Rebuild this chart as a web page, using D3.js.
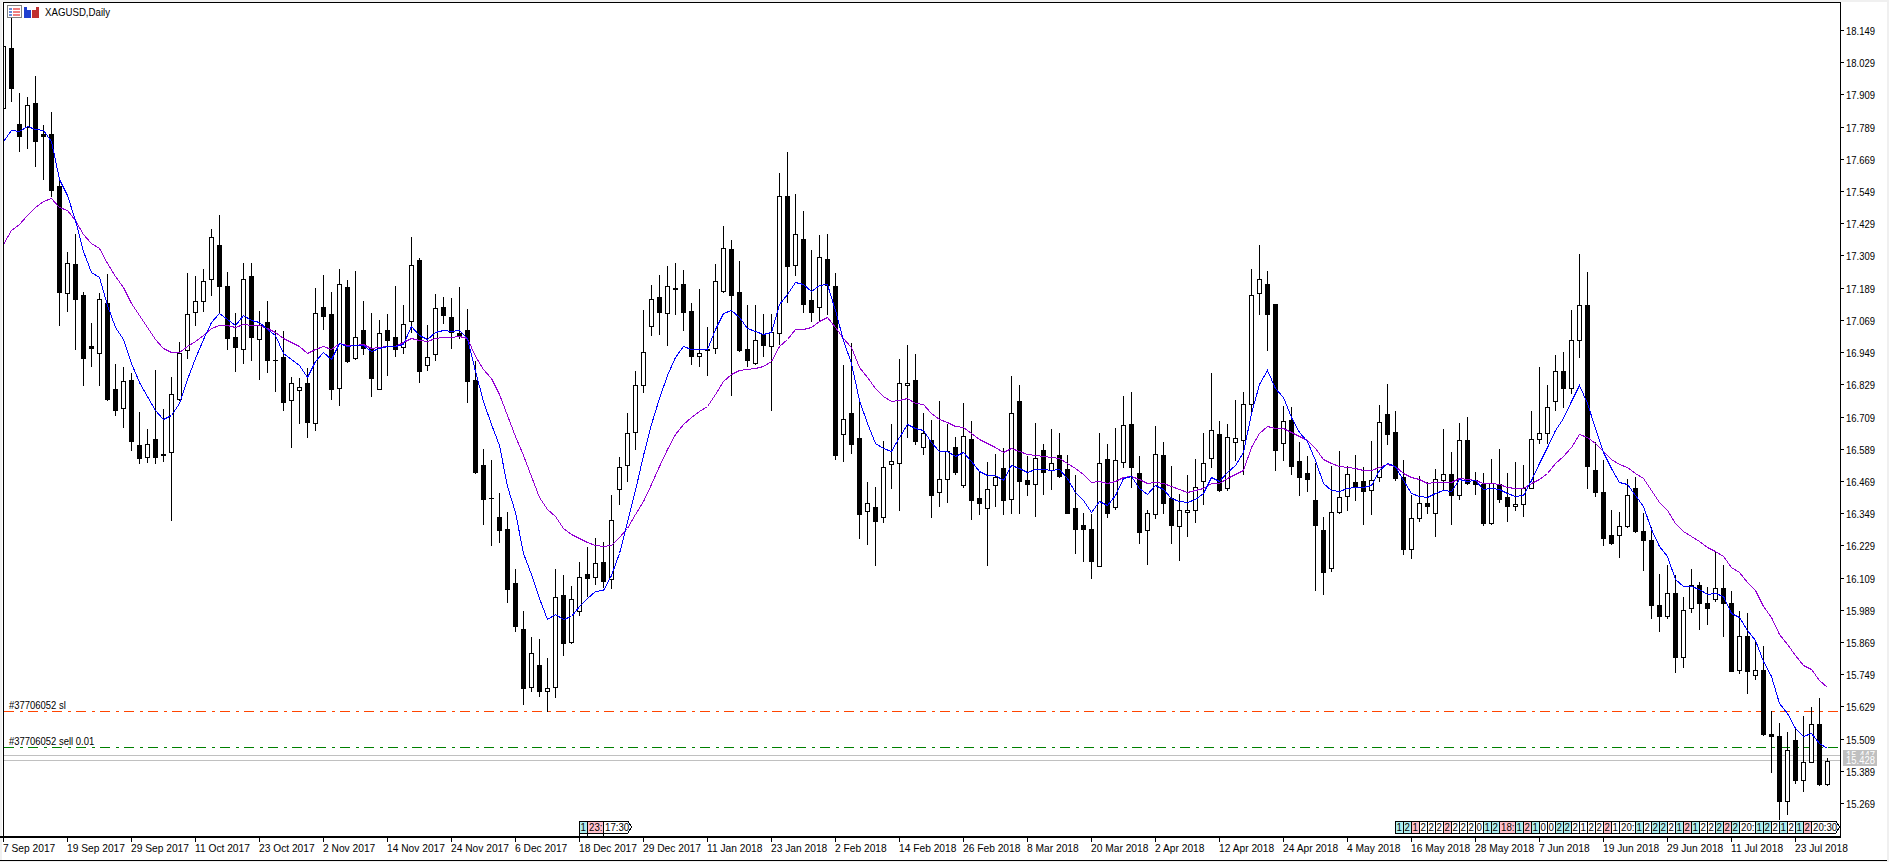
<!DOCTYPE html>
<html>
<head>
<meta charset="utf-8">
<title>XAGUSD,Daily</title>
<script src="https://cdn.jsdelivr.net/npm/d3@7"></script>
<style>
  html, body { margin: 0; padding: 0; background: #f0f0f0; overflow: hidden; }
  svg { display: block; }
  text { font-family: "Liberation Sans", Arial, sans-serif; font-size: 11px; fill: #000; }
</style>
</head>
<body>
<svg id="chart" width="1889" height="862"></svg>
<script>
// Daily XAGUSD candles, one entry per trading session.
const openPrices = [
17.857,18.083,17.798,17.786,17.876,17.763,17.760,17.567,17.168,17.276,
17.160,16.972,16.945,17.131,16.810,16.739,16.845,16.603,16.558,16.625,
16.569,16.577,16.773,16.955,17.100,17.141,17.220,17.348,17.195,17.004,
16.959,17.232,16.998,17.061,16.921,16.930,16.771,16.808,16.834,16.685,
17.117,17.090,16.814,17.191,16.926,17.031,16.966,16.813,17.031,17.004,
16.967,17.064,17.291,16.900,16.940,17.117,17.079,17.020,17.030,16.845,
16.528,16.406,16.335,16.289,16.088,15.917,15.700,15.783,15.686,15.703,
16.044,15.867,15.984,16.122,16.111,16.166,16.104,16.439,16.527,16.651,
16.826,17.046,17.154,17.094,17.188,17.203,17.101,16.936,16.960,16.963,
17.177,17.332,17.173,16.960,16.908,17.017,16.972,17.020,17.530,17.274,
17.369,17.142,17.116,17.295,17.194,16.642,16.721,16.628,16.356,16.371,
16.334,16.531,16.535,16.825,16.844,16.594,16.620,16.427,16.475,16.594,
16.453,16.624,16.404,16.367,16.453,16.516,16.401,16.766,16.471,16.457,
16.583,16.509,16.565,16.512,16.367,16.304,16.289,16.151,16.550,16.373,
16.538,16.680,16.497,16.285,16.345,16.565,16.404,16.300,16.352,16.360,
16.468,16.554,16.643,16.444,16.613,16.621,16.755,17.168,17.202,17.127,
16.609,16.695,16.542,16.499,16.397,16.285,16.144,16.352,16.412,16.465,
16.468,16.434,16.482,16.717,16.650,16.484,16.217,16.330,16.386,16.351,
16.474,16.494,16.415,16.621,16.473,16.457,16.314,16.458,16.408,16.375,
16.382,16.444,16.624,16.647,16.768,16.878,16.817,16.993,17.123,16.509,
16.428,16.267,16.267,16.301,16.442,16.282,16.248,16.006,15.965,16.052,
15.812,15.997,16.081,16.014,16.029,16.070,16.013,15.764,15.890,15.745,
15.764,15.526,15.518,15.275,15.503,15.353,15.422,15.565,15.340];

const closePrices = [
18.091,17.934,17.755,17.868,17.737,17.755,17.554,17.171,17.282,17.145,
16.928,16.963,17.145,16.776,16.732,16.841,16.619,16.553,16.607,16.557,
16.564,16.793,16.945,17.090,17.139,17.212,17.377,17.194,17.000,16.967,
17.221,17.004,17.051,16.918,16.918,16.762,16.834,16.818,16.687,17.096,
17.085,16.810,17.204,16.914,17.004,16.963,16.854,17.020,16.993,16.959,
17.053,17.272,16.880,16.929,17.113,17.086,17.022,17.013,16.843,16.501,
16.400,16.404,16.285,16.068,15.927,15.696,15.827,15.685,15.697,16.037,
15.864,16.028,16.111,16.107,16.162,16.095,16.323,16.520,16.647,16.826,
16.949,17.146,17.097,17.194,17.185,17.097,16.933,16.945,16.957,17.213,
17.337,17.160,16.957,16.918,16.993,16.977,17.022,17.530,17.268,17.388,
17.129,17.100,17.304,17.200,16.567,16.699,16.608,16.344,16.386,16.321,
16.520,16.545,16.833,16.833,16.619,16.649,16.418,16.475,16.579,16.501,
16.635,16.399,16.385,16.440,16.485,16.399,16.721,16.470,16.459,16.553,
16.501,16.535,16.489,16.351,16.291,16.291,16.172,16.535,16.351,16.546,
16.676,16.519,16.280,16.349,16.568,16.388,16.303,16.360,16.360,16.448,
16.535,16.658,16.436,16.632,16.628,16.755,17.161,17.220,17.092,16.586,
16.691,16.523,16.485,16.478,16.303,16.128,16.352,16.408,16.494,16.451,
16.433,16.472,16.688,16.642,16.480,16.217,16.330,16.386,16.374,16.475,
16.494,16.415,16.621,16.463,16.459,16.314,16.460,16.400,16.377,16.382,
16.442,16.624,16.647,16.746,16.878,16.817,16.993,17.123,16.526,16.426,
16.255,16.238,16.301,16.416,16.281,16.248,16.006,15.965,16.052,15.812,
15.987,16.080,16.013,15.995,16.070,16.013,15.762,15.890,15.759,15.764,
15.526,15.517,15.275,15.466,15.353,15.422,15.565,15.340,15.424];

const highPrices = [
18.130,18.222,17.914,17.899,17.976,17.795,17.844,17.594,17.322,17.389,
17.173,17.058,17.168,17.239,16.905,16.894,16.872,16.727,16.663,16.882,
16.737,16.857,16.987,17.244,17.234,17.258,17.408,17.461,17.248,17.095,
17.280,17.280,17.103,17.139,17.032,17.027,16.857,16.853,16.891,17.188,
17.236,17.173,17.258,17.218,17.252,17.139,17.095,17.070,17.091,17.196,
17.124,17.378,17.300,17.050,17.164,17.156,17.150,17.193,17.110,16.915,
16.588,16.548,16.423,16.355,16.142,15.984,15.887,15.881,15.810,16.142,
16.119,16.078,16.166,16.221,16.258,16.242,16.417,16.558,16.721,16.879,
17.107,17.200,17.237,17.271,17.281,17.255,17.133,17.183,17.042,17.278,
17.419,17.368,17.290,17.124,17.124,17.091,17.091,17.617,17.696,17.539,
17.475,17.328,17.385,17.389,17.242,16.900,16.983,16.771,16.465,16.447,
16.618,16.681,16.923,16.975,16.941,16.722,16.696,16.767,16.681,16.632,
16.759,16.691,16.506,16.540,16.570,16.591,16.860,16.827,16.562,16.684,
16.607,16.663,16.648,16.566,16.491,16.351,16.347,16.648,16.607,16.665,
16.786,16.800,16.562,16.361,16.674,16.614,16.525,16.421,16.491,16.551,
16.648,16.870,16.693,16.681,16.771,16.799,17.258,17.348,17.251,17.127,
16.748,16.744,16.614,16.562,16.536,16.335,16.525,16.581,16.524,16.566,
16.520,16.618,16.752,16.830,16.730,16.547,16.417,16.487,16.464,16.514,
16.663,16.577,16.685,16.708,16.501,16.499,16.551,16.588,16.499,16.539,
16.529,16.729,16.894,16.827,16.937,16.950,17.106,17.315,17.248,16.614,
16.546,16.362,16.354,16.478,16.483,16.351,16.297,16.123,16.157,16.119,
16.037,16.141,16.093,16.073,16.207,16.157,16.059,15.986,15.977,15.870,
15.855,15.610,15.567,15.534,15.551,15.593,15.625,15.661,15.436];

const lowPrices = [
17.810,17.886,17.700,17.709,17.644,17.594,17.531,17.051,17.103,16.959,
16.828,16.899,16.828,16.769,16.713,16.671,16.586,16.535,16.541,16.535,
16.545,16.322,16.771,16.926,17.051,17.103,17.161,17.099,16.959,16.880,
16.907,16.921,16.850,16.873,16.803,16.732,16.594,16.684,16.631,16.658,
17.034,16.773,16.750,16.912,16.923,16.943,16.787,16.810,16.862,16.936,
16.947,17.022,16.836,16.883,16.918,17.056,16.963,17.000,16.762,16.497,
16.310,16.232,16.242,16.017,15.908,15.636,15.685,15.666,15.611,15.665,
15.819,15.864,15.971,16.041,16.084,16.074,16.071,16.384,16.470,16.588,
16.801,17.012,17.017,16.977,17.091,17.032,16.905,16.896,16.862,16.947,
17.174,16.788,16.952,16.899,16.906,16.936,16.735,16.980,17.134,17.237,
17.098,17.065,17.067,17.090,16.552,16.545,16.573,16.258,16.234,16.154,
16.317,16.444,16.362,16.634,16.608,16.571,16.336,16.377,16.392,16.493,
16.448,16.327,16.347,16.157,16.377,16.347,16.351,16.351,16.418,16.340,
16.422,16.439,16.485,16.351,16.202,16.169,16.109,16.151,16.336,16.366,
16.519,16.448,16.239,16.161,16.329,16.351,16.239,16.176,16.262,16.317,
16.383,16.521,16.432,16.437,16.547,16.495,16.717,17.092,16.957,16.508,
16.547,16.495,16.418,16.433,16.064,16.046,16.135,16.351,16.361,16.398,
16.310,16.347,16.467,16.607,16.473,16.195,16.180,16.318,16.351,16.262,
16.436,16.310,16.401,16.459,16.422,16.303,16.307,16.391,16.321,16.362,
16.339,16.444,16.609,16.609,16.734,16.745,16.796,16.929,16.444,16.411,
16.231,16.235,16.187,16.298,16.278,16.138,15.959,15.910,15.957,15.758,
15.774,15.982,15.919,15.937,16.020,15.893,15.759,15.752,15.679,15.732,
15.523,15.383,15.211,15.229,15.345,15.315,15.420,15.337,15.337];

// Fast and slow moving averages, one value per session.
const fastAverage = [
17.735,17.776,17.771,17.793,17.780,17.776,17.735,17.594,17.536,17.440,
17.325,17.248,17.229,17.126,17.043,16.998,16.908,16.837,16.786,16.735,
16.699,16.716,16.761,16.850,16.927,16.998,17.062,17.094,17.071,17.051,
17.086,17.068,17.062,17.034,17.011,16.946,16.925,16.902,16.857,16.914,
16.949,16.922,16.982,16.970,16.975,16.975,16.953,16.963,16.971,16.972,
16.979,17.046,17.012,16.996,17.022,17.033,17.029,17.030,17.000,16.879,
16.765,16.680,16.601,16.451,16.352,16.202,16.124,16.031,15.955,15.974,
15.953,15.967,16.003,16.031,16.058,16.064,16.117,16.202,16.316,16.437,
16.565,16.680,16.779,16.865,16.929,16.972,16.962,16.959,16.960,17.036,
17.093,17.104,17.079,17.040,17.026,17.016,17.022,17.128,17.167,17.211,
17.201,17.178,17.199,17.201,17.106,16.994,16.907,16.771,16.684,16.612,
16.591,16.581,16.632,16.680,16.666,16.660,16.615,16.581,16.581,16.563,
16.578,16.543,16.506,16.491,16.490,16.473,16.527,16.516,16.501,16.514,
16.512,16.510,16.512,16.479,16.429,16.398,16.353,16.393,16.381,16.417,
16.479,16.488,16.442,16.419,16.452,16.440,16.407,16.396,16.389,16.403,
16.423,16.482,16.469,16.504,16.529,16.578,16.721,16.829,16.883,16.814,
16.783,16.709,16.653,16.616,16.547,16.460,16.436,16.432,16.444,16.446,
16.447,16.454,16.510,16.535,16.525,16.473,16.423,16.413,16.408,16.423,
16.436,16.433,16.478,16.470,16.473,16.438,16.441,16.438,16.423,16.413,
16.417,16.473,16.535,16.597,16.659,16.703,16.765,16.827,16.758,16.665,
16.575,16.518,16.465,16.456,16.418,16.375,16.290,16.225,16.190,16.104,
16.079,16.079,16.066,16.049,16.050,16.040,15.976,15.962,15.912,15.876,
15.798,15.741,15.641,15.605,15.548,15.520,15.531,15.491,15.474];

const slowAverage = [
17.353,17.404,17.427,17.459,17.488,17.511,17.522,17.491,17.479,17.440,
17.389,17.357,17.338,17.280,17.231,17.190,17.132,17.088,17.043,16.998,
16.963,16.949,16.950,16.972,16.991,17.011,17.039,17.049,17.049,17.043,
17.053,17.049,17.049,17.040,17.023,17.000,16.985,16.970,16.945,16.959,
16.970,16.959,16.981,16.975,16.977,16.978,16.966,16.967,16.971,16.972,
16.986,17.003,16.993,16.990,17.003,17.007,17.007,17.010,17.000,16.936,
16.886,16.851,16.794,16.715,16.637,16.565,16.487,16.409,16.366,16.337,
16.295,16.273,16.256,16.241,16.232,16.226,16.231,16.259,16.295,16.345,
16.394,16.459,16.523,16.587,16.644,16.682,16.708,16.729,16.748,16.794,
16.843,16.869,16.882,16.885,16.890,16.899,16.915,16.972,16.996,17.034,
17.036,17.044,17.066,17.079,17.044,17.000,16.969,16.895,16.858,16.814,
16.787,16.766,16.769,16.777,16.761,16.754,16.721,16.700,16.690,16.675,
16.669,16.646,16.625,16.612,16.597,16.578,16.591,16.581,16.570,16.566,
16.563,16.557,16.553,16.535,16.516,16.495,16.464,16.468,16.463,16.468,
16.484,16.489,16.475,16.460,16.466,16.463,16.450,16.438,16.429,16.434,
16.442,16.460,16.460,16.479,16.494,16.510,16.597,16.647,16.672,16.665,
16.668,16.653,16.637,16.622,16.591,16.551,16.537,16.525,16.520,16.516,
16.510,16.508,16.520,16.531,16.525,16.498,16.484,16.475,16.463,16.465,
16.465,16.464,16.479,16.475,16.474,16.460,16.460,16.458,16.448,16.442,
16.444,16.460,16.475,16.498,16.535,16.560,16.597,16.645,16.634,16.610,
16.581,16.549,16.532,16.520,16.500,16.479,16.435,16.392,16.361,16.311,
16.282,16.265,16.244,16.221,16.207,16.190,16.147,16.128,16.093,16.061,
16.004,15.962,15.898,15.862,15.819,15.784,15.769,15.727,15.701];

// Axis labels: a price every 0.12 and a date every eight sessions.
const priceTicks = [18.149,18.029,17.909,17.789,17.669,17.549,17.429,17.309,17.189,17.069,16.949,16.829,16.709,16.589,16.469,16.349,16.229,16.109,15.989,15.869,15.749,15.629,15.509,15.389,15.269];
const dateTicks = ["7 Sep 2017","19 Sep 2017","29 Sep 2017","11 Oct 2017","23 Oct 2017","2 Nov 2017","14 Nov 2017","24 Nov 2017","6 Dec 2017","18 Dec 2017","29 Dec 2017","11 Jan 2018","23 Jan 2018","2 Feb 2018","14 Feb 2018","26 Feb 2018","8 Mar 2018","20 Mar 2018","2 Apr 2018","12 Apr 2018","24 Apr 2018","4 May 2018","16 May 2018","28 May 2018","7 Jun 2018","19 Jun 2018","29 Jun 2018","11 Jul 2018","23 Jul 2018"];
const sessionsPerDateTick = 8;

// Order levels and live quotes.
const stopLevel = 15.611;
const entryLevel = 15.477;
const quoteLevels = [15.447, 15.428];
const stopLabel = "#37706052 sl";
const entryLabel = "#37706052 sell 0.01";

// Event flags along the bottom: label text and tint code (t teal, p pink, w white).
const flagsEarlyStart = 72;
const flagsEarlyText = ["1","23:","17:30"];
const flagsEarlyTint = ["t","p","w"];
const flagsLateStart = 174;
const flagsLateText = ["1","2","1","2","2","2","2","2","2","2","0","1","2","18:","1","2","1","0","0","2","2","2","1","2","2","2","1","20:","1","2","2","2","2","1","2","1","2","2","2","2","2","20:","1","2","2","1","2","1","2","20:30"];
const flagsLateTint = ["t","t","p","w","w","w","p","w","w","w","w","t","t","p","t","p","t","w","w","t","t","w","w","w","w","p","w","w","t","w","t","t","w","t","p","t","w","w","t","p","t","w","t","t","w","t","w","t","p","w"];
const tintColour = { t: "#afeeee", p: "#ffc0cb", w: "#ffffff" };

const svg = d3.select("#chart");
const plot = { left: 3, right: 1840, top: 2, bottom: 836 };

const sessionCount = openPrices.length;
const x = d3.scaleLinear().domain([0, sessionCount - 1]).range([3, 3 + 8 * (sessionCount - 1)]);
const y = d3.scaleLinear().domain([18.149, 15.269]).rangeRound([30, 803]);

// Plot background and the window frame around it.
svg.append("rect").attr("x", 2).attr("y", 2).attr("width", 1885).attr("height", 859).attr("fill", "#fff");
svg.append("defs").append("clipPath").attr("id", "plot-clip").append("rect")
  .attr("x", plot.left + 1).attr("y", plot.top + 1)
  .attr("width", plot.right - plot.left - 1).attr("height", plot.bottom - plot.top - 1);

const marks = svg.append("g").attr("clip-path", "url(#plot-clip)").attr("shape-rendering", "crispEdges");

const sessions = d3.range(sessionCount).map(i => ({
  i, open: openPrices[i], high: highPrices[i], low: lowPrices[i], close: closePrices[i], up: closePrices[i] >= openPrices[i]
}));

// Horizontal order and quote levels sit behind the candles.
function levelLine(price, colour, dash) {
  marks.append("line")
    .attr("x1", plot.left + 1).attr("x2", plot.right)
    .attr("y1", y(price) + 0.5).attr("y2", y(price) + 0.5)
    .attr("stroke", colour).attr("stroke-width", 1)
    .attr("stroke-dasharray", dash);
}
quoteLevels.forEach(q => levelLine(q, "#c0c0c0", null));
levelLine(stopLevel, "#ff4500", "10 6 3 5");
levelLine(entryLevel, "#008000", "10 6 3 5");

const candle = marks.selectAll("g.candle").data(sessions).join("g").attr("class", "candle");
candle.append("line")
  .attr("x1", d => x(d.i) + 0.5).attr("x2", d => x(d.i) + 0.5)
  .attr("y1", d => y(d.high)).attr("y2", d => y(d.low) + 1)
  .attr("stroke", "#000");
candle.filter(d => !d.up).append("rect")
  .attr("x", d => x(d.i) - 2).attr("width", 5)
  .attr("y", d => y(d.open))
  .attr("height", d => Math.max(1, y(d.close) - y(d.open) + 1))
  .attr("fill", "#000");
candle.filter(d => d.up).append("rect")
  .attr("x", d => x(d.i) - 1.5).attr("width", 4)
  .attr("y", d => y(d.close) + 0.5)
  .attr("height", d => Math.max(1, y(d.open) - y(d.close)))
  .attr("fill", "#fff").attr("stroke", "#000");

// Moving averages run over the candles.
const averageLine = d3.line().x((d, i) => x(i) + 0.5).y(d => y(d) + 0.5);
marks.append("path").attr("d", averageLine(slowAverage)).attr("fill", "none").attr("stroke", "#9400d3");
marks.append("path").attr("d", averageLine(fastAverage)).attr("fill", "none").attr("stroke", "#0000ff");

// Labels for the order levels.
function squeezedText(parent, txt, px, py, sx) {
  return parent.append("text").attr("transform", `translate(${px},${py}) scale(${sx},1)`).text(txt);
}
squeezedText(svg, stopLabel, 9, y(stopLevel) - 2, 0.86);
squeezedText(svg, entryLabel, 9, y(entryLevel) - 2, 0.86);

// Event flags.
function drawFlags(startIndex, labels, tints) {
  let cx = x(startIndex);
  labels.forEach((label, k) => {
    const last = k === labels.length - 1 && label.length === 5;
    const w = label.length === 1 ? 8 : label.length === 3 ? 16 : 29;
    const g = svg.append("g").attr("transform", `translate(${cx},0)`);
    const path = last
      ? `M0.5 821V833H${w - 4}L${w - 0.5} 827L${w - 4} 821Z`
      : `M0.5 821V833H${w + 0.5}V821Z`;
    g.append("path").attr("d", path).attr("fill", tintColour[tints[k]]).attr("stroke", "#000").attr("shape-rendering", "crispEdges");
    if (startIndex === flagsEarlyStart) {
      g.append("line").attr("x1", 0.5).attr("x2", 0.5).attr("y1", 833).attr("y2", 836).attr("stroke", "#000").attr("shape-rendering", "crispEdges");
    }
    g.append("text")
      .attr("transform", `translate(${label.length === 5 ? 2 : label.length === 3 ? 2 : 1.5},831) scale(.88,1)`)
      .text(label);
    cx += w;
  });
}
drawFlags(flagsEarlyStart, flagsEarlyText, flagsEarlyTint);
drawFlags(flagsLateStart, flagsLateText, flagsLateTint);

// Plot frame.
const frame = svg.append("g").attr("stroke", "#000").attr("shape-rendering", "crispEdges");
frame.append("line").attr("x1", plot.left).attr("x2", plot.right + 1).attr("y1", 2.5).attr("y2", 2.5);
frame.append("line").attr("x1", 3.5).attr("x2", 3.5).attr("y1", 2).attr("y2", 837);
frame.append("line").attr("x1", 1840.5).attr("x2", 1840.5).attr("y1", 2).attr("y2", 837);
frame.append("line").attr("x1", 0).attr("x2", 1841).attr("y1", 836.5).attr("y2", 836.5);
frame.append("line").attr("x1", 0).attr("x2", 1841).attr("y1", 837.5).attr("y2", 837.5);
frame.append("line").attr("x1", 0).attr("x2", 1887).attr("y1", 860.5).attr("y2", 860.5);

// Price axis on the right.
const priceAxis = svg.append("g")
  .attr("transform", "translate(1840,0)")
  .call(d3.axisRight(y).tickValues(priceTicks).tickFormat(d3.format(".3f")).tickSize(4).tickPadding(2));
priceAxis.select(".domain").remove();
priceAxis.selectAll("line").attr("stroke", "#000").attr("shape-rendering", "crispEdges");
priceAxis.selectAll("text")
  .attr("font-family", null).attr("x", null).attr("dy", null)
  .attr("transform", "translate(6,4) scale(.86,1)");

// Date axis along the bottom.
const dateAxis = svg.append("g")
  .attr("transform", "translate(0,838)")
  .call(d3.axisBottom(x)
    .tickValues(dateTicks.map((d, k) => k * sessionsPerDateTick))
    .tickFormat((d, k) => dateTicks[k]).tickSize(4).tickPadding(3));
dateAxis.select(".domain").remove();
dateAxis.selectAll("line").attr("stroke", "#000").attr("shape-rendering", "crispEdges");
dateAxis.selectAll("text")
  .attr("y", null).attr("dy", null).attr("text-anchor", "start")
  .attr("transform", "translate(-0.5,14) scale(.93,1)");

// Current quote tags on the price axis.
quoteLevels.forEach(q => {
  svg.append("rect").attr("x", 1843).attr("y", y(q) - 5).attr("width", 34).attr("height", 11).attr("fill", "#c0c0c0");
  squeezedText(svg, d3.format(".3f")(q), 1846, y(q) + 4, 0.86).style("fill", "#fff");
});

// Symbol caption with its small window icons.
const icons = svg.append("g").attr("shape-rendering", "crispEdges");
icons.append("rect").attr("x", 7.5).attr("y", 5.5).attr("width", 14).attr("height", 12).attr("fill", "#fff").attr("stroke", "#808080");
[8, 11, 14].forEach(py => {
  icons.append("rect").attr("x", 9).attr("y", py).attr("width", 3).attr("height", 2).attr("fill", "#6a8ad8");
  icons.append("rect").attr("x", 13).attr("y", py).attr("width", 7).attr("height", 2).attr("fill", "#f08080");
});
icons.append("path").attr("d", "M24 7h3v3h4v8h-7z").attr("fill", "#2040d0");
icons.append("path").attr("d", "M32 10h4v-3h3v11h-7z").attr("fill", "#c03030");
squeezedText(svg, "XAGUSD,Daily", 45, 16, 0.88);
</script>
</body>
</html>
